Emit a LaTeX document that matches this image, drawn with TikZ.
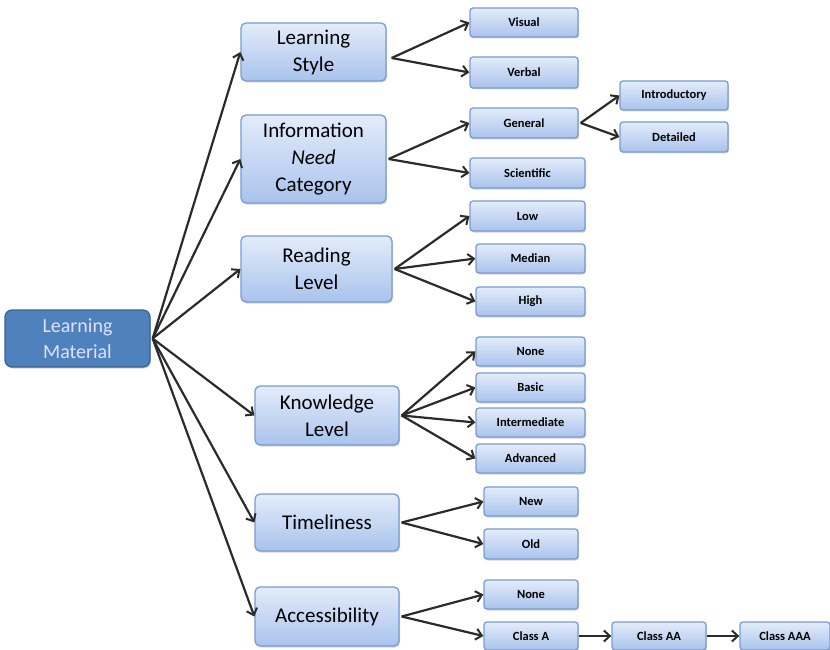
\documentclass[tikz,border=0pt]{standalone}
\usepackage{fontspec}
\setmainfont{Carlito}
\usetikzlibrary{arrows.meta,shadows}
\definecolor{bdr}{HTML}{7A9BD0}
\definecolor{topc}{HTML}{E3ECFA}
\definecolor{botc}{HTML}{A9C3EC}
\definecolor{lmfill}{HTML}{4F81BD}
\definecolor{lmbdr}{HTML}{3A6595}
\definecolor{arr}{HTML}{2B2B2B}
\tikzset{
  box/.style={draw=bdr, line width=1.3pt, rounded corners=5pt, top color=topc, bottom color=botc, inner sep=0pt, align=center,
    drop shadow={shadow xshift=1pt, shadow yshift=-1.5pt, opacity=0.35}},
  cat/.style={box, font=\fontsize{21}{27}\selectfont},
  leaf/.style={box, rounded corners=3pt, font=\fontsize{12.5}{14}\selectfont\bfseries},
  root/.style={draw=lmbdr, line width=1.3pt, rounded corners=7pt, fill=lmfill, text=white!88!blue, align=center, inner sep=0pt,
    font=\fontsize{20}{26}\selectfont, drop shadow={shadow xshift=1pt, shadow yshift=-1.5pt, opacity=0.35}},
  conn/.style={draw=arr, line width=2.2pt, -{Straight Barb[length=6pt,width=11pt,line width=2pt]}}
}
\begin{document}
\begin{tikzpicture}[x=1pt,y=-1pt]
\useasboundingbox (0,0) rectangle (830,650);
% root
\node[root, minimum width=145pt, minimum height=57pt] (lm) at (77.5,338.5) {Learning\\Material};
% categories
\node[cat, minimum width=145pt, minimum height=58pt] (ls) at (313.5,52) {Learning\\Style};
\node[cat, minimum width=145pt, minimum height=88pt] (inc) at (313.5,159) {Information\\\textit{Need}\\Category};
\node[cat, minimum width=151pt, minimum height=66pt] (rl) at (316.5,269) {Reading\\Level};
\node[cat, minimum width=144pt, minimum height=59pt] (kl) at (327,415.5) {Knowledge\\Level};
\node[cat, minimum width=144pt, minimum height=57pt] (tl) at (327,522.5) {Timeliness};
\node[cat, minimum width=144pt, minimum height=59pt] (ac) at (327,616.5) {Accessibility};
% leaves
\node[leaf, minimum width=108pt, minimum height=29pt] (visual) at (524,22.5) {Visual};
\node[leaf, minimum width=108pt, minimum height=31pt] (verbal) at (524,72.5) {Verbal};
\node[leaf, minimum width=108pt, minimum height=30pt] (general) at (524,123) {General};
\node[leaf, minimum width=115pt, minimum height=30pt] (scientific) at (527.5,173) {Scientific};
\node[leaf, minimum width=108pt, minimum height=29pt] (intro) at (674,95.5) {Introductory};
\node[leaf, minimum width=108pt, minimum height=30pt] (detailed) at (674,137) {Detailed};
\node[leaf, minimum width=115pt, minimum height=30pt] (low) at (527.5,216) {Low};
\node[leaf, minimum width=109pt, minimum height=29pt] (median) at (530.5,258.5) {Median};
\node[leaf, minimum width=109pt, minimum height=29pt] (high) at (530.5,301.5) {High};
\node[leaf, minimum width=109pt, minimum height=29pt] (noneK) at (530.5,351.5) {None};
\node[leaf, minimum width=109pt, minimum height=29pt] (basic) at (530.5,387.5) {Basic};
\node[leaf, minimum width=109pt, minimum height=29pt] (inter) at (530.5,422.5) {Intermediate};
\node[leaf, minimum width=109pt, minimum height=29pt] (adv) at (530.5,458.5) {Advanced};
\node[leaf, minimum width=94pt, minimum height=29pt] (new) at (531,501.5) {New};
\node[leaf, minimum width=94pt, minimum height=30pt] (old) at (531,544) {Old};
\node[leaf, minimum width=94pt, minimum height=29pt] (noneA) at (531,594.5) {None};
\node[leaf, minimum width=94pt, minimum height=28pt] (classA) at (531,636) {Class A};
\node[leaf, minimum width=94pt, minimum height=28pt] (classAA) at (659,636) {Class AA};
\node[leaf, minimum width=90pt, minimum height=28pt] (classAAA) at (785,636) {Class AAA};
% hubs
\coordinate (hub) at ([xshift=2pt]lm.east);
\coordinate (lsO) at ([xshift=5pt,yshift=-6pt]ls.east);
\coordinate (incO) at ([xshift=2pt]inc.east);
\coordinate (rlO) at ([xshift=2pt]rl.east);
\coordinate (klO) at ([xshift=2pt]kl.east);
\coordinate (tlO) at ([xshift=2pt]tl.east);
\coordinate (acO) at ([xshift=2pt]ac.east);
\coordinate (genO) at ([xshift=2pt]general.east);
% connectors
\foreach \t in {ls,inc,rl,kl,tl,ac} \draw[conn] (hub) -- (\t.west);
\foreach \t in {visual,verbal} \draw[conn] (lsO) -- (\t.west);
\foreach \t in {general,scientific} \draw[conn] (incO) -- (\t.west);
\foreach \t in {intro,detailed} \draw[conn] (genO) -- (\t.west);
\foreach \t in {low,median,high} \draw[conn] (rlO) -- (\t.west);
\foreach \t in {noneK,basic,inter,adv} \draw[conn] (klO) -- (\t.west);
\foreach \t in {new,old} \draw[conn] (tlO) -- (\t.west);
\foreach \t in {noneA,classA} \draw[conn] (acO) -- (\t.west);
\draw[conn] (classA) -- (classAA);
\draw[conn] (classAA) -- (classAAA);
\end{tikzpicture}
\end{document}
